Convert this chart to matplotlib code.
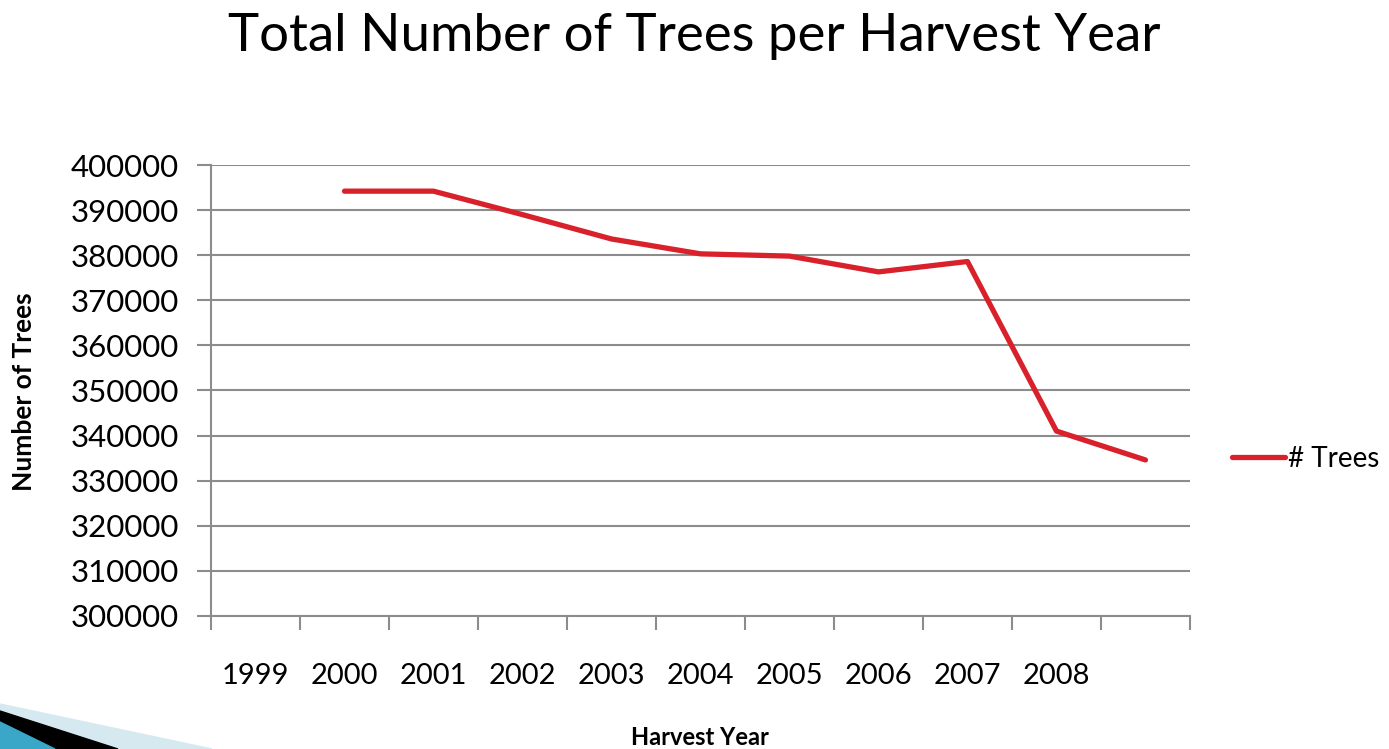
import numpy as np
import matplotlib.pyplot as plt
from matplotlib.patches import Polygon

# category labels as they appear under the axis (last slot has no label)
years = ['1999', '2000', '2001', '2002', '2003', '2004', '2005', '2006', '2007', '2008', '']
# the series sits one slot to the right of its label, as in the original chart
trees = [np.nan, 394200, 394200, 389000, 383600, 380300, 379800, 376300, 378600, 341000, 334600]

plt.rcParams['font.family'] = ['Lato', 'DejaVu Sans']

fig = plt.figure(figsize=(13.89, 7.49), dpi=100)
ax = fig.add_axes([0.1519, 0.1776, 0.7048, 0.6021])

x = np.arange(len(years))
ax.plot(x, trees, color='#d9212c', linewidth=3.8, solid_capstyle='round',
        solid_joinstyle='round', label='# Trees')

ax.set_xlim(-0.5, len(years) - 0.5)
ax.set_ylim(300000, 400000)
ax.set_yticks(np.arange(300000, 400001, 10000))
ax.tick_params(axis='y', length=10, width=1.5, color='#8c8c8c', labelsize=22.5, pad=13)
ax.yaxis.grid(True, color='#8c8c8c', linewidth=1.5)
ax.set_axisbelow(True)

# ticks on category boundaries, labels at category centres
ax.set_xticks(np.arange(len(years) + 1) - 0.5)
ax.set_xticklabels([])
ax.set_xticks(x, minor=True)
ax.set_xticklabels(years, minor=True)
ax.tick_params(axis='x', which='major', length=10, width=1.5, color='#8c8c8c', direction='out')
ax.tick_params(axis='x', which='minor', length=0, labelsize=21, pad=34)

for s in ['top', 'right']:
    ax.spines[s].set_visible(False)
for s in ['left', 'bottom']:
    ax.spines[s].set_color('#8c8c8c')
    ax.spines[s].set_linewidth(1.5)

ax.set_xlabel('Harvest Year', fontsize=17, fontweight='bold')
ax.xaxis.set_label_coords(0.4995, -0.244)
ax.set_ylabel('Number of Trees', fontsize=19, fontweight='bold')
ax.yaxis.set_label_coords(-0.179, 0.497)

fig.suptitle('Total Number of Trees per Harvest Year', fontsize=38, y=0.982)

ax.legend(loc='center left', bbox_to_anchor=(1.043, 0.348), frameon=False,
          borderaxespad=0, borderpad=0, fontsize=20, handlelength=1.9,
          handletextpad=0.12)

# decorative corner swoosh
W, H = 1389.0, 749.0
def fp(pts):
    return [(px / W, 1 - py / H) for px, py in pts]
fig.patches.append(Polygon(fp([(0, 704), (212, 749), (0, 749)]), closed=True,
                           transform=fig.transFigure, color='#d6e9f0', zorder=0))
fig.patches.append(Polygon(fp([(0, 711), (118, 749), (0, 749)]), closed=True,
                           transform=fig.transFigure, color='#000000', zorder=0))
fig.patches.append(Polygon(fp([(0, 722), (55, 749), (0, 749)]), closed=True,
                           transform=fig.transFigure, color='#3aa6c8', zorder=0))

fig.savefig('out.png', dpi=100)
